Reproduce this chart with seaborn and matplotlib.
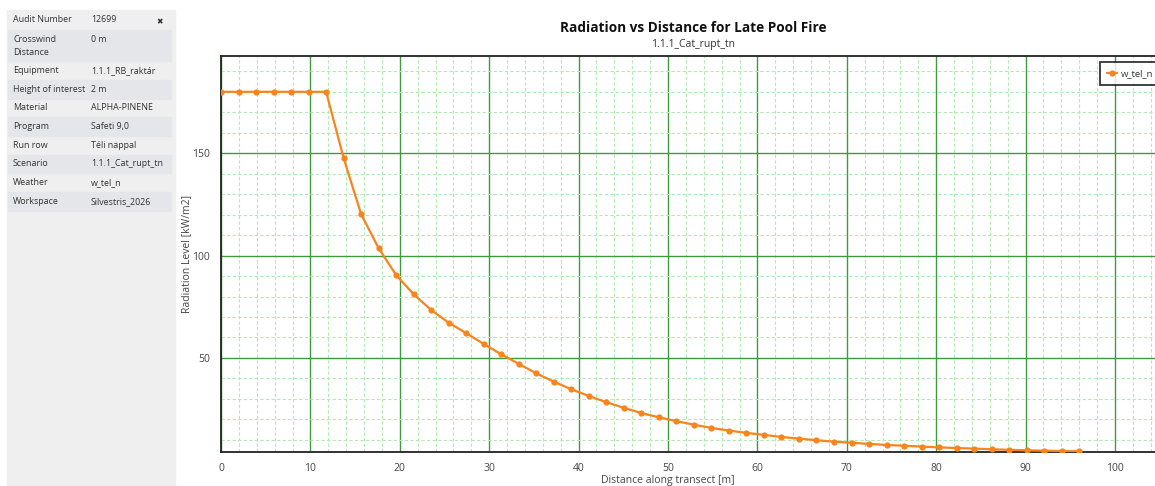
import seaborn as sns
import matplotlib.pyplot as plt
from matplotlib.patches import Rectangle
from matplotlib.ticker import MultipleLocator, FixedLocator

# data
distance = [0.0, 1.96, 3.92, 5.88, 7.84, 9.80, 11.76, 13.71, 15.67, 17.63,
            19.59, 21.55, 23.51, 25.47, 27.43, 29.39, 31.35, 33.31, 35.27, 37.22,
            39.18, 41.14, 43.10, 45.06, 47.02, 48.98, 50.94, 52.90, 54.86, 56.82,
            58.78, 60.73, 62.69, 64.65, 66.61, 68.57, 70.53, 72.49, 74.45, 76.41,
            78.37, 80.33, 82.29, 84.24, 86.20, 88.16, 90.12, 92.08, 94.04, 96.0]
radiation = [180.0, 180.0, 180.0, 180.0, 180.0, 180.0, 180.0, 147.7, 120.3, 103.6,
             90.5, 81.1, 73.4, 67.2, 62.1, 56.8, 51.8, 47.1, 42.5, 38.4,
             34.7, 31.4, 28.4, 25.6, 23.1, 21.0, 19.1, 17.4, 15.8, 14.5,
             13.4, 12.4, 11.4, 10.6, 9.8, 9.1, 8.6, 8.0, 7.5, 7.1,
             6.7, 6.3, 6.0, 5.7, 5.4, 5.1, 4.9, 4.7, 4.5, 4.4]
series_name = 'w_tel_n'

panel_labels = ['Audit Number', 'Crosswind\nDistance', 'Equipment', 'Height of interest',
                'Material', 'Program', 'Run row', 'Scenario', 'Weather', 'Workspace']
panel_values = ['12699', '0 m', '1.1.1_RB_raktár', '2 m', 'ALPHA-PINENE',
                'Safeti 9,0', 'Téli nappal', '1.1.1_Cat_rupt_tn', 'w_tel_n', 'Silvestris_2026']

title = 'Radiation vs Distance for Late Pool Fire'
subtitle = '1.1.1_Cat_rupt_tn'
xlabel = 'Distance along transect [m]'
ylabel = 'Radiation Level [kW/m2]'

sns.set_style('white')
plt.rcParams['font.family'] = ['Open Sans', 'DejaVu Sans']

W, H = 1155, 486
fig = plt.figure(figsize=(W / 100, H / 100), dpi=100)


def fx(px):
    return px / W


def fy(py):
    return 1 - py / H


# left info panel
fig.patches.append(Rectangle((fx(7), 0), fx(175) - fx(7), fy(10),
                             transform=fig.transFigure, color='#efefef', zorder=0))
row_edges = [10, 30, 61, 80, 99, 117, 136, 155, 173, 192, 211]
for i, (lab, val) in enumerate(zip(panel_labels, panel_values)):
    top, bot = row_edges[i], row_edges[i + 1]
    if i % 2 == 1:
        fig.patches.append(Rectangle((fx(8), fy(bot)), fx(171) - fx(8), (bot - top) / H,
                                     transform=fig.transFigure, color='#e4e6e9', zorder=0))
    if '\n' in lab:
        ty = top + 9.5
        for j, part in enumerate(lab.split('\n')):
            fig.text(fx(13), fy(ty + 13 * j), part, fontsize=6.4, color='#333333', va='center')
    else:
        ty = (top + bot) / 2
        fig.text(fx(13), fy(ty), lab, fontsize=6.4, color='#333333', va='center')
    fig.text(fx(91), fy(ty), val, fontsize=6.4, color='#333333', va='center')
fig.text(fx(160), fy(22), '\u2716', fontsize=5.5, color='#333333', ha='center', va='center',
         family=['DejaVu Sans'])

# chart
ax = fig.add_axes([fx(221), fy(451.7), 108 * 8.94 / W, (451.7 - 56) / H])
sns.lineplot(x=distance, y=radiation, marker='o', color='#f7841c', linewidth=1.6,
             markersize=4.5, markeredgewidth=0, label=series_name, ax=ax, zorder=3)

ax.set_xlim(0, 108)
ax.set_ylim(4.2, 197.5)
ax.xaxis.set_major_locator(MultipleLocator(10))
ax.xaxis.set_minor_locator(MultipleLocator(2))
ax.yaxis.set_major_locator(FixedLocator([50, 100, 150]))
ax.yaxis.set_minor_locator(MultipleLocator(10))
ax.set_axisbelow(True)
ax.grid(which='major', color='#3f993f', linewidth=1.0, linestyle='-')
ax.grid(which='minor', color='#b3eab3', linewidth=0.8, linestyle=(0, (3, 2)))
ax.tick_params(which='major', direction='out', length=5, width=1, color='#333333',
               labelsize=7.5, labelcolor='#444444', pad=3)
ax.tick_params(which='minor', direction='out', length=3, width=1, color='#333333')
for side in ['left', 'bottom', 'top']:
    ax.spines[side].set_color('#222222')
    ax.spines[side].set_linewidth(1.3)
ax.spines['right'].set_visible(False)

ax.set_xlabel(xlabel, fontsize=7.5, color='#444444')
ax.set_ylabel(ylabel, fontsize=7.5, color='#444444')
ax.xaxis.set_label_coords((668 - 221) / (108 * 8.94), -0.058)
ax.yaxis.set_label_coords(-0.03, 0.5)

fig.text(fx(693), fy(28), title, fontsize=9.8, fontweight='bold', ha='center', va='center',
         color='#111111')
fig.text(fx(693), fy(45), subtitle, fontsize=7.5, ha='center', va='center', color='#333333')

leg = ax.legend(loc='upper left', bbox_to_anchor=(fx(1100), fy(62)),
                bbox_transform=fig.transFigure, frameon=True, fancybox=False,
                edgecolor='black', borderaxespad=0, fontsize=6.8, handlelength=1.1,
                handletextpad=0.4, borderpad=0.75, labelcolor='#333333')
leg.get_frame().set_linewidth(1.3)

fig.savefig('out.png', dpi=100)
